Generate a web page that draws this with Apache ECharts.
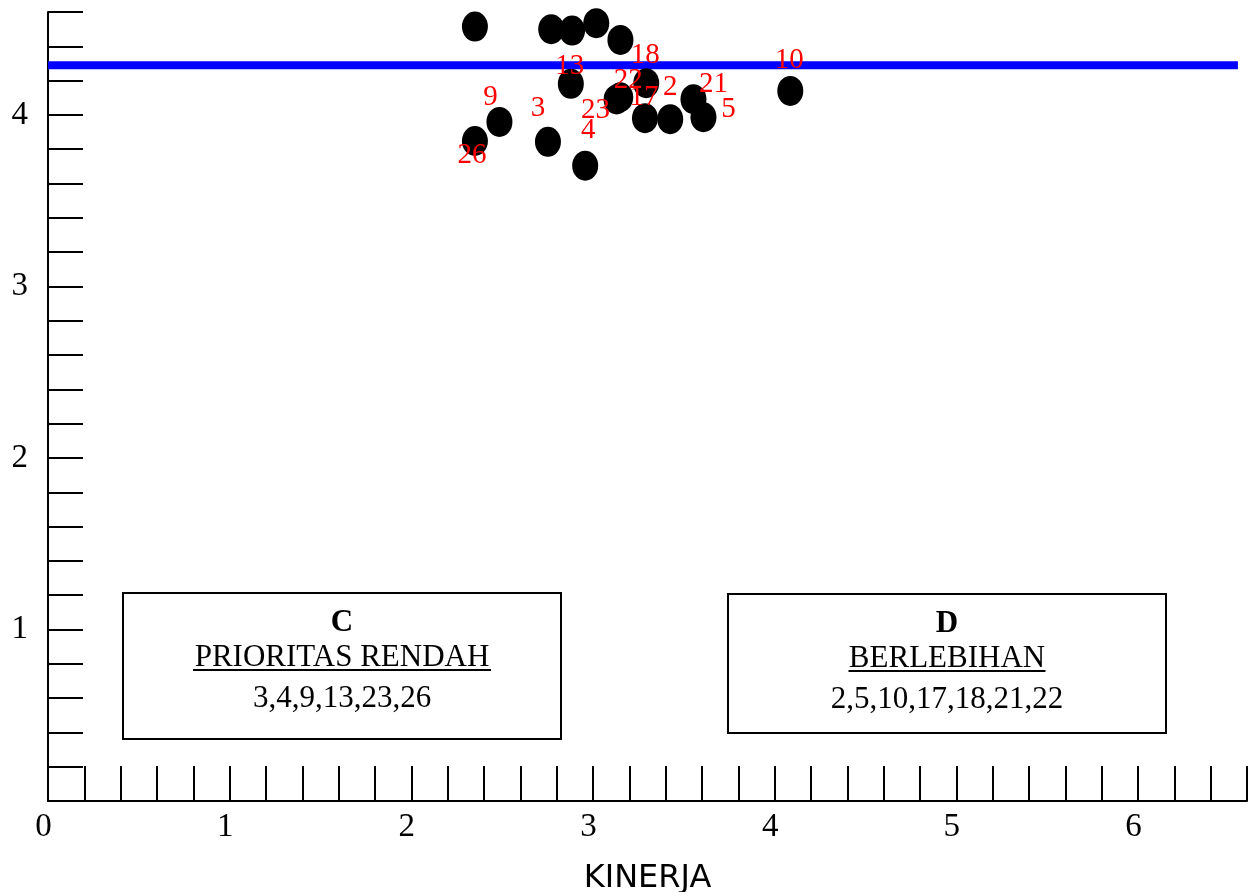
<!DOCTYPE html>
<html>
<head>
<meta charset="utf-8">
<script src="https://cdn.jsdelivr.net/npm/echarts@6/dist/echarts.min.js"></script>
<style>
  html, body { margin: 0; padding: 0; background: #ffffff; }
  #chart { width: 1256px; height: 892px; }
</style>
</head>
<body>
<div id="chart"></div>
<script>
// ---- Data ----
// Item numbers (null = point shown without a label)
const itemIds = [null, null, null, null, null, 13, 18, 22, 17, 2, 21, 5, 10, 9, 26, 3, 4, 23];
// KINERJA (performance) – x values
const kinerja = [2.35, 2.77, 2.885, 3.018, 3.151, 2.878, 3.293, 3.15, 3.286, 3.425, 3.553, 3.608, 4.086, 2.485, 2.35, 2.752, 2.957, 3.13];
// KEPENTINGAN (importance) – y values
const kepentingan = [4.515, 4.50, 4.492, 4.535, 4.437, 4.181, 4.185, 4.103, 3.981, 3.975, 4.092, 3.987, 4.140, 3.959, 3.848, 3.843, 3.704, 4.09];
// Mean importance (blue line) and its extent along x
const meanKepentingan = 4.29;
const meanLineX = [0, 6.55];
// Axis ranges / ticks
const xRange = [0, 6.6];
const yRange = [0, 4.6];
const tickStep = 0.2;
// Quadrant boxes text
const boxC = { title: 'C', name: 'PRIORITAS RENDAH', items: '3,4,9,13,23,26' };
const boxD = { title: 'D', name: 'BERLEBIHAN', items: '2,5,10,17,18,21,22' };

// ---- Styles (label offsets relative to point, in px) ----
const labelOffset = {
  13: [-1, -17], 18: [-1, -28], 22: [8, -17], 17: [-1, -21], 2: [0, -32],
  21: [20, -15], 5: [25, -8], 10: [-1, -31], 9: [-9, -25], 26: [-3, 14],
  3: [-10, -33], 4: [3, -35], 23: [-21, 11]
};

const serif = '"Liberation Serif", "Times New Roman", serif';

const scatterData = kinerja.map((x, i) => {
  const id = itemIds[i];
  return { value: [x, kepentingan[i]], name: id == null ? '' : String(id) };
});

const intFmt = (v) => Math.abs(v - Math.round(v)) < 1e-6 ? String(Math.round(v)) : '';

const chart = echarts.init(document.getElementById('chart'), null, { renderer: 'canvas' });

function boxGraphics(b, x, y, w, h, underlineW) {
  const cx = x + w / 2;
  return [
    { type: 'rect', shape: { x: x, y: y, width: w, height: h },
      style: { fill: 'rgba(0,0,0,0)', stroke: '#000', lineWidth: 2 }, z: 10 },
    { type: 'text', x: cx, y: y + 30, style: { text: b.title, font: 'bold 31px ' + serif, fill: '#000', textAlign: 'center', textVerticalAlign: 'middle' }, z: 10 },
    { type: 'text', x: cx, y: y + 65, style: { text: b.name, font: '31px ' + serif, fill: '#000', textAlign: 'center', textVerticalAlign: 'middle' }, z: 10 },
    { type: 'line', shape: { x1: cx - underlineW / 2, y1: y + 77, x2: cx + underlineW / 2, y2: y + 77 },
      style: { stroke: '#000', lineWidth: 2 }, z: 10 },
    { type: 'text', x: cx, y: y + 106, style: { text: b.items, font: '31px ' + serif, fill: '#000', textAlign: 'center', textVerticalAlign: 'middle' }, z: 10 }
  ];
}

chart.setOption({
  animation: false,
  backgroundColor: '#ffffff',
  grid: { left: 48, right: 9, top: 12, bottom: 91, containLabel: false, outerBoundsMode: 'none' },
  xAxis: {
    type: 'value', min: xRange[0], max: xRange[1], interval: tickStep,
    name: 'KINERJA', nameLocation: 'middle', nameGap: 62,
    nameTextStyle: { fontFamily: '"DejaVu Sans", sans-serif', fontSize: 32, color: '#000' },
    axisLine: { show: true, onZero: false, lineStyle: { color: '#000', width: 2 } },
    axisTick: { show: true, inside: true, length: 35, lineStyle: { color: '#000', width: 2 } },
    splitLine: { show: false },
    axisLabel: { formatter: intFmt, fontFamily: serif, fontSize: 33, color: '#000', margin: 10, padding: [0, 9, 0, 0] }
  },
  yAxis: {
    type: 'value', min: yRange[0], max: yRange[1], interval: tickStep,
    axisLine: { show: true, onZero: false, lineStyle: { color: '#000', width: 2 } },
    axisTick: { show: true, inside: true, length: 35, lineStyle: { color: '#000', width: 2 } },
    splitLine: { show: false },
    axisLabel: { formatter: (v) => (v === 0 ? '' : intFmt(v)), fontFamily: serif, fontSize: 33, color: '#000', margin: 20 }
  },
  series: [
    {
      type: 'line', silent: true, symbol: 'none', z: 1,
      data: [[meanLineX[0], meanKepentingan], [meanLineX[1], meanKepentingan]],
      lineStyle: { color: '#0000ff', width: 8, cap: 'butt' }
    },
    {
      type: 'scatter', z: 3, symbol: 'circle', symbolSize: [26, 30],
      itemStyle: { color: '#000000', opacity: 1 },
      label: {
        show: true, position: 'inside', formatter: '{b}',
        color: '#ff0000', fontFamily: serif, fontSize: 29
      },
      labelLayout: function (p) {
        const id = itemIds[p.dataIndex];
        const o = labelOffset[id] || [0, 0];
        return { dx: o[0], dy: o[1], hideOverlap: false };
      },
      data: scatterData
    }
  ],
  graphic: [].concat(
    boxGraphics(boxC, 123, 593, 438, 146, 298),
    boxGraphics(boxD, 728, 594, 438, 139, 197)
  )
});
</script>
</body>
</html>
